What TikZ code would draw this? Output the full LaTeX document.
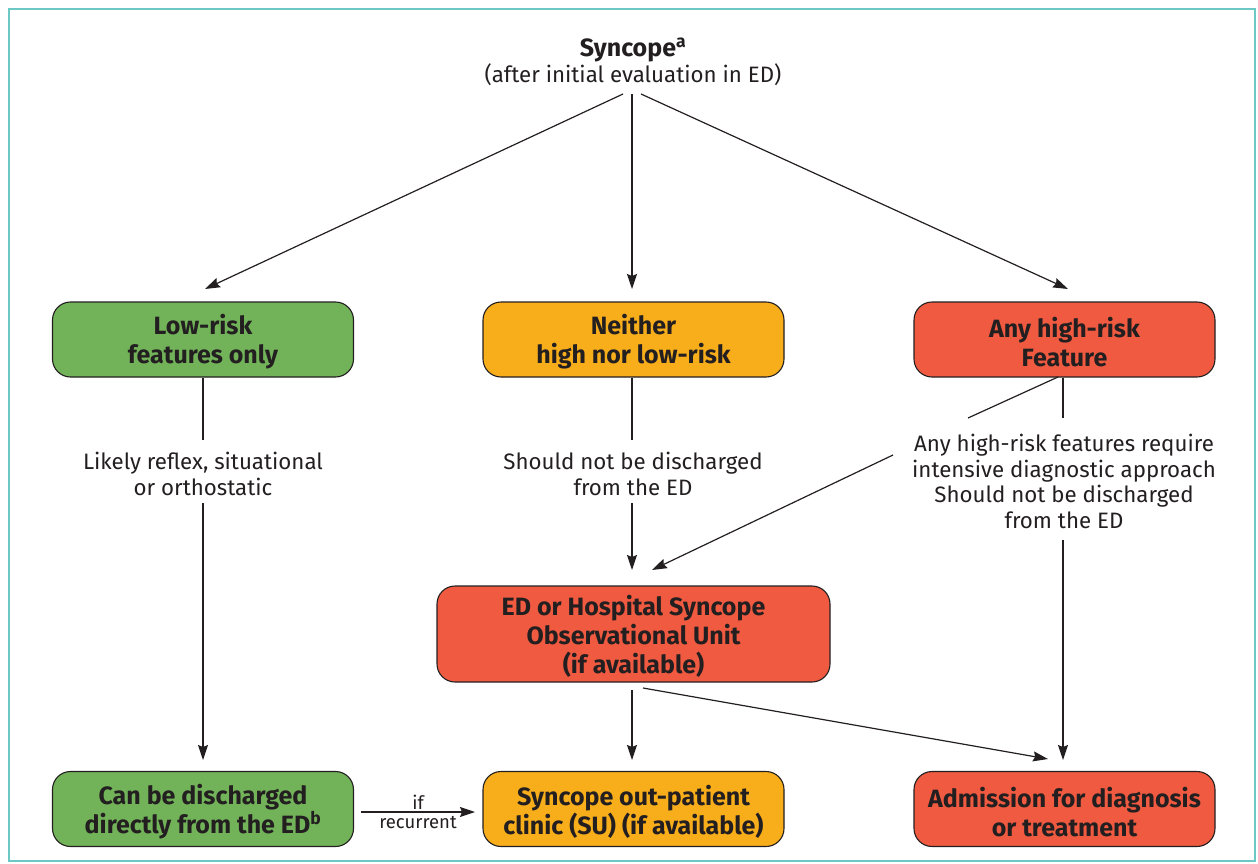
\documentclass[tikz,border=0pt]{standalone}
\usepackage{fontspec}
\setmainfont{Fira Sans}
\usetikzlibrary{arrows.meta}
\definecolor{frame}{HTML}{6CC8C4}
\definecolor{grn}{HTML}{72B35A}
\definecolor{org}{HTML}{F8AE1B}
\definecolor{rd}{HTML}{EF5A40}
\definecolor{ink}{HTML}{231F20}
\newcommand\bxst{\rule{0pt}{25.5pt}}
\begin{document}
\begin{tikzpicture}[x=1pt,y=-1pt,
  box/.style={draw=ink,line width=1.1pt,rounded corners=18pt,minimum width=301pt,minimum height=75pt,
    align=center,font=\fontsize{25}{29}\selectfont\bfseries,text=ink,inner sep=0pt},
  lbl/.style={align=center,font=\fontsize{22.3}{25.8}\selectfont,text=ink,inner sep=0pt},
  con/.style={line width=1.2pt,draw=ink},
  arr/.style={con,-{Stealth[length=15pt,width=10pt,inset=2pt]}}]
\useasboundingbox (0,0) rectangle (1258,864);
\draw[frame,line width=2.5pt] (9,9) rectangle (1255,861);
% title
\node[lbl] (title) at (633,61.5) {{\fontsize{25}{29}\selectfont\bfseries Syncope\textsuperscript{a}}\\(after initial evaluation in ED)};
% row 1
\node[box,fill=grn] (low) at (203,339.5) {\bxst Low-risk\\features only};
\node[box,fill=org] (neither) at (633.5,339.5) {\bxst Neither\\high nor low-risk};
\node[box,fill=rd] (high) at (1064.5,339.5) {\bxst Any high-risk\\Feature};
% labels
\node[lbl] (lowlbl) at (203,474) {Likely reflex, situational\\or orthostatic};
\node[lbl] (neilbl) at (633,474) {Should not be discharged\\from the ED};
\node[lbl] (highlbl) at (1064,481.5) {Any high-risk features require\\intensive diagnostic approach\\Should not be discharged\\from the ED};
% ED unit
\node[box,fill=rd,minimum width=393pt,minimum height=96pt] (unit) at (633.5,634) {\bxst ED or Hospital Syncope\\Observational Unit\\(if available)};
% bottom row
\node[box,fill=grn] (dis) at (203,809) {\bxst Can be discharged\\directly from the ED\textsuperscript{b}};
\node[box,fill=org] (clinic) at (633.5,809) {\bxst Syncope out-patient\\clinic (SU) (if available)};
\node[box,fill=rd] (adm) at (1064.5,809) {\bxst Admission for diagnosis\\or treatment};
% coordinates
\coordinate (t1) at (623,94); \coordinate (t2) at (632,94); \coordinate (t3) at (641,94);
\coordinate (e1) at (205,289); \coordinate (e2) at (632,289); \coordinate (e3) at (1068,289);
\coordinate (lowa) at (203,440); \coordinate (lowb) at (203,503); \coordinate (lowe) at (203,760);
\coordinate (neia) at (632,440); \coordinate (neib) at (632,503); \coordinate (neie) at (632,570);
\coordinate (hva) at (1063,418); \coordinate (hvb) at (1063,540); \coordinate (hve) at (1063,760);
\coordinate (hds) at (1058,377); \coordinate (hda) at (968,418); \coordinate (hdb) at (893,455); \coordinate (hde) at (652,570);
\coordinate (ua) at (632,690); \coordinate (ue) at (632,760);
\coordinate (ub) at (643,688); \coordinate (ube) at (1048,759);
\coordinate (ra) at (361,812); \coordinate (re) at (475,812);
% connectors
\draw[arr] (t1) -- (e1);
\draw[arr] (t2) -- (e2);
\draw[arr] (t3) -- (e3);
\draw[con] (low.south) -- (lowa);
\draw[arr] (lowb) -- (lowe);
\draw[con] (neither.south -| neia) -- (neia);
\draw[arr] (neib) -- (neie);
\draw[con] (high.south -| hva) -- (hva);
\draw[arr] (hvb) -- (hve);
\draw[con] (hds) -- (hda);
\draw[arr] (hdb) -- (hde);
\draw[arr] (ua) -- (ue);
\draw[arr] (ub) -- (ube);
\draw[arr] (ra) -- node[lbl,font=\fontsize{18.5}{22}\selectfont,above=2pt]{if} node[lbl,font=\fontsize{18.5}{22}\selectfont,below=4pt]{recurrent} (re);
\end{tikzpicture}
\end{document}
